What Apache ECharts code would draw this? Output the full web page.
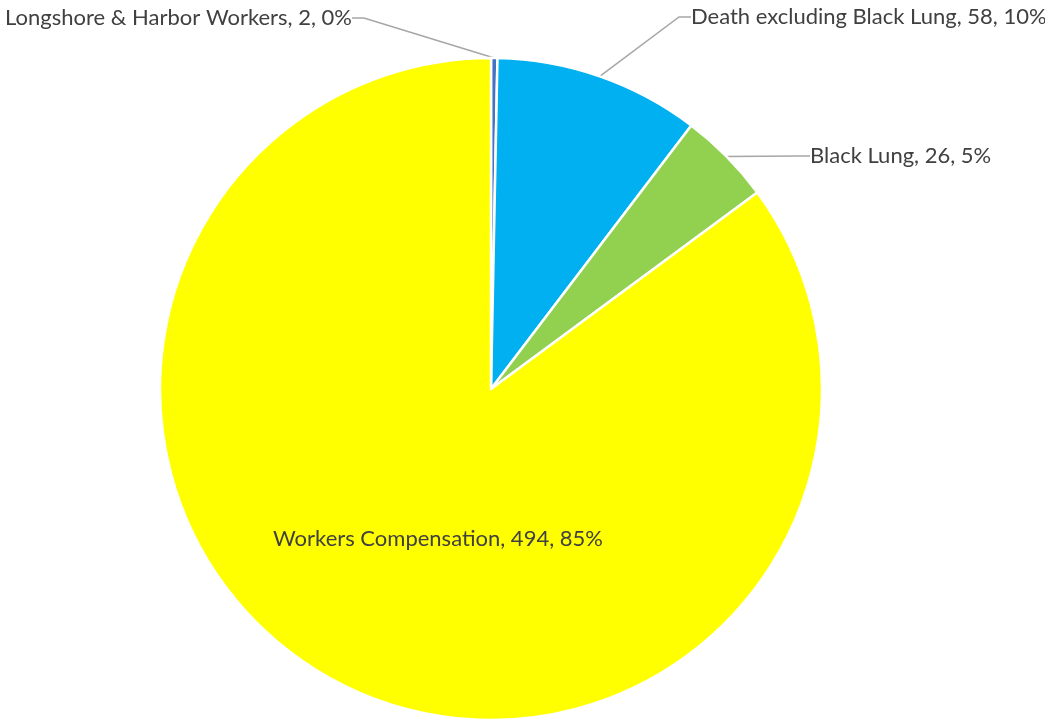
<!DOCTYPE html>
<html>
<head>
<meta charset="utf-8">
<script src="https://cdn.jsdelivr.net/npm/echarts@6/dist/echarts.min.js"></script>
<style>
  html, body { margin: 0; padding: 0; background: #fff; }
  #chart { width: 1045px; height: 719px; }
</style>
</head>
<body>
<div id="chart"></div>
<script>
var categories = ['Longshore & Harbor Workers', 'Death excluding Black Lung', 'Black Lung', 'Workers Compensation'];
var values = [1.8, 58.2, 26.3, 493.7];
var colors = ['#4472C4', '#00B0F0', '#92D050', '#FFFF00'];

// where each label sits (text anchor), pie labels are placed by hand like the excel chart
var labelSpots = [
    { x: 5, y: 18, align: 'left' },
    { x: 691, y: 17, align: 'left' },
    { x: 810, y: 156, align: 'left' },
    { x: 438, y: 539, align: 'center' }
];

var chart = echarts.init(document.getElementById('chart'));

var data = categories.map(function (name, i) {
    var item = {
        name: name,
        value: values[i],
        itemStyle: { color: colors[i] }
    };
    if (i === 3) {
        item.label = { position: 'inside' };
        item.labelLine = { show: false };
    }
    return item;
});

chart.setOption({
    animation: false,
    series: [{
        type: 'pie',
        center: [491, 389],
        radius: 331,
        startAngle: 90,
        clockwise: true,
        avoidLabelOverlap: false,
        itemStyle: {
            borderColor: '#fff',
            borderWidth: 2.5
        },
        label: {
            show: true,
            fontFamily: 'Lato',
            fontSize: 22,
            color: '#404040',
            formatter: function (p) {
                return p.name + ', ' + Math.round(p.value) + ', ' + Math.round(p.percent) + '%';
            }
        },
        labelLine: {
            show: true,
            length: 20,
            length2: 12,
            lineStyle: { color: '#A6A6A6', width: 1.5 }
        },
        labelLayout: function (params) {
            var s = labelSpots[params.dataIndex];
            return {
                x: s.x,
                y: s.y,
                align: s.align,
                verticalAlign: 'middle'
            };
        },
        data: data
    }]
});
</script>
</body>
</html>
